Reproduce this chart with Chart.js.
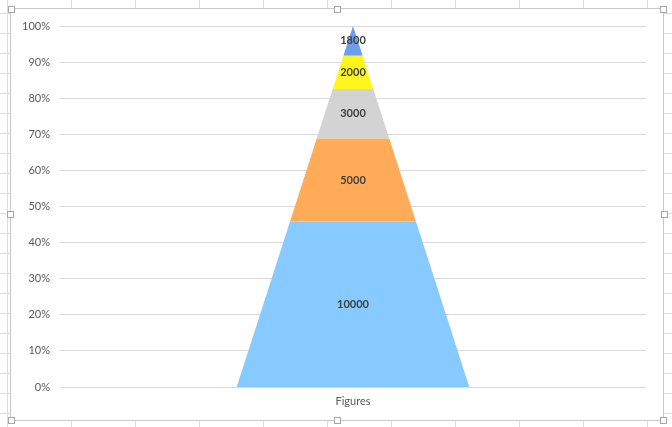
<!DOCTYPE html>
<html>
<head>
<meta charset="utf-8">
<script src="https://cdn.jsdelivr.net/npm/chart.js@4/dist/chart.umd.min.js"></script>
<style>
  html, body { margin: 0; padding: 0; }
  body {
    width: 672px; height: 427px; overflow: hidden; position: relative;
    background-color: #fff;
    background-image:
      repeating-linear-gradient(to right, transparent 0 7px, #dadcdd 7px 8px, transparent 8px 64px),
      repeating-linear-gradient(to bottom, transparent 0 13px, #dadcdd 13px 14px, transparent 14px 20px);
  }
  #frame {
    position: absolute; left: 10px; top: 8px; width: 652px; height: 411px;
    border: 1px solid #c8c8c8; background: #fff;
  }
  .handle {
    position: absolute; width: 5px; height: 5px;
    border: 1px solid #a6a6a6; background: #fff;
  }
  #chart { position: absolute; left: 0; top: 0; }
</style>
</head>
<body>
<div id="frame"></div>
<div class="handle" style="left:8px;top:6px"></div>
<div class="handle" style="left:334px;top:6px"></div>
<div class="handle" style="left:660px;top:6px"></div>
<div class="handle" style="left:7px;top:211px"></div>
<div class="handle" style="left:661px;top:211px"></div>
<div class="handle" style="left:8px;top:417px"></div>
<div class="handle" style="left:334px;top:417px"></div>
<div class="handle" style="left:660px;top:417px"></div>
<canvas id="chart" width="672" height="427"></canvas>
<script>
// --- data -------------------------------------------------------------
const categories    = ['Figures'];
const segmentValues = [10000, 5000, 3000, 2000, 1800];   // bottom -> top
const yTickValues   = [0, 10, 20, 30, 40, 50, 60, 70, 80, 90, 100];

// --- styling ----------------------------------------------------------
const SEGMENT_COLORS = ['#87caff', '#ffab57', '#d3d3d3', '#fff51f', '#6d9eeb'];
const GRID   = '#d9d9d9';
const MUTED  = '#595959';
const LABEL  = '#404040';
const FONT   = 'Lato, "Liberation Sans", sans-serif';
const BASE_HALF = 0.397;   // half width of pyramid base on the -1..1 x scale

// cumulative percentages: 0, 45.9, 68.8, ...
const total = segmentValues.reduce((a, b) => a + b, 0);
const cumPct = [0];
segmentValues.forEach(v => cumPct.push(cumPct[cumPct.length - 1] + v / total * 100));

// half width of pyramid at a given height (percent)
const halfAt = pct => BASE_HALF * (1 - pct / 100);

const datasets = segmentValues.map((v, i) => {
  const y0 = cumPct[i], y1 = cumPct[i + 1];
  return {
    label:           String(v),
    data: [
      { x: -halfAt(y0), y: y0 },
      { x:  halfAt(y0), y: y0 },
      { x:  halfAt(y1), y: y1 },
      { x: -halfAt(y1), y: y1 },
      { x: -halfAt(y0), y: y0 },
    ],
    fill:            'shape',
    backgroundColor: SEGMENT_COLORS[i],
    borderColor:     'transparent',
    borderWidth:     0,
    pointRadius:     0,
    tension:         0,
  };
});

// centred value labels in each band
const segmentLabels = {
  id: 'segmentLabels',
  afterDatasetsDraw(chart) {
    const { ctx, scales: { x, y } } = chart;
    ctx.save();
    ctx.font = `bold 11px ${FONT}`;
    ctx.fillStyle = LABEL;
    ctx.textAlign = 'center';
    ctx.textBaseline = 'middle';
    segmentValues.forEach((v, i) => {
      const mid = (cumPct[i] + cumPct[i + 1]) / 2;
      ctx.fillText(String(v), x.getPixelForValue(0), y.getPixelForValue(mid));
    });
    ctx.restore();
  },
};

new Chart(document.getElementById('chart'), {
  type: 'line',
  data: { datasets },
  plugins: [segmentLabels],
  options: {
    responsive: false,
    animation:  false,
    events:     [],
    layout: { padding: { left: 0, right: 26, top: 26, bottom: 0 } },
    plugins: {
      legend:  { display: false },
      tooltip: { enabled: false },
    },
    scales: {
      x: {
        type: 'linear',
        min: -1,
        max: 1,
        grid:   { display: false },
        border: { display: false },
        afterBuildTicks: s => { s.ticks = [{ value: 0 }]; },
        afterFit: s => { s.height = 40; },
        ticks: {
          padding:  0,
          color:    MUTED,
          font:     { family: FONT, size: 11 },
          callback: () => categories[0],
        },
      },
      y: {
        min: 0,
        max: 100,
        grid:   { color: GRID, lineWidth: 1, drawTicks: false },
        border: { display: false },
        afterBuildTicks: s => { s.ticks = yTickValues.map(v => ({ value: v })); },
        afterFit: s => { s.width = 60; },
        ticks: {
          padding:  10,
          color:    MUTED,
          font:     { family: FONT, size: 11 },
          callback: v => v + '%',
        },
      },
    },
  },
});
</script>
</body>
</html>
